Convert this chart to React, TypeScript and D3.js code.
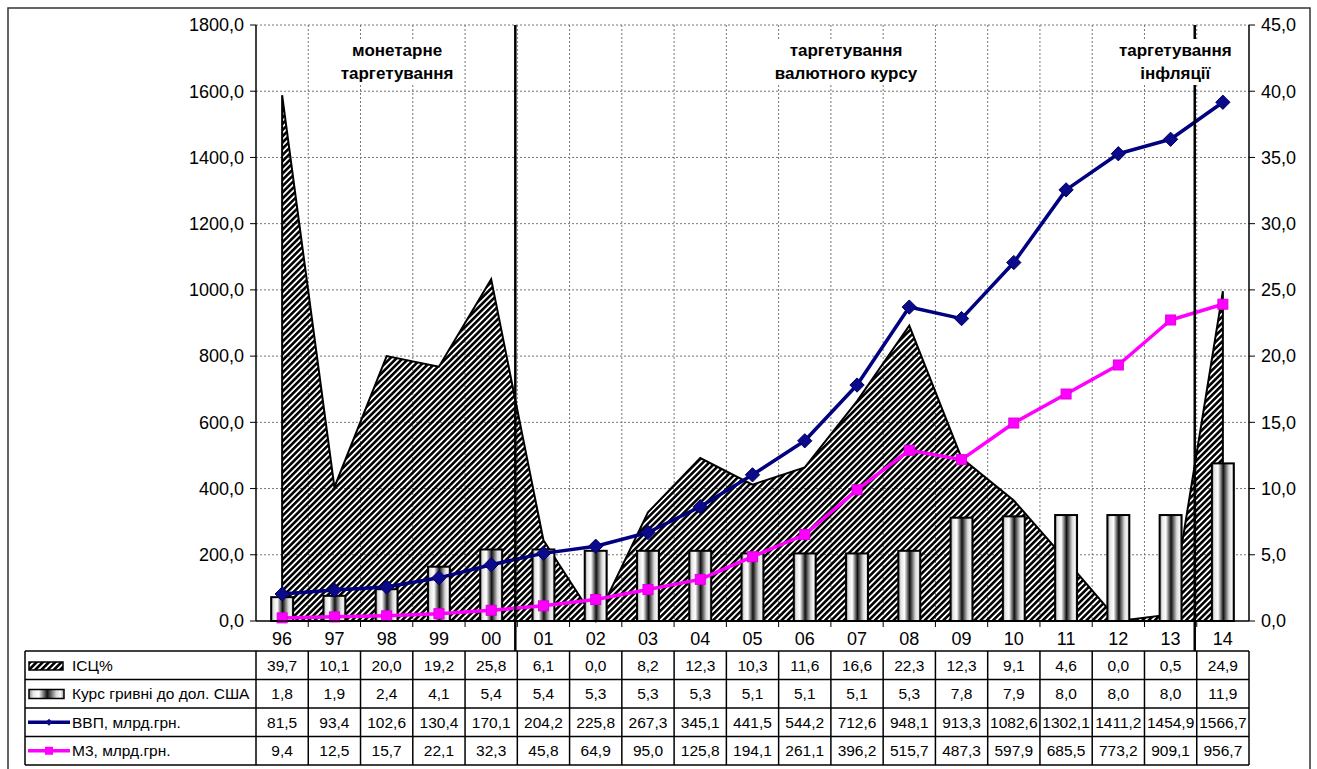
import * as d3 from "d3";
import { useEffect, useRef } from "react";

const years = ["96", "97", "98", "99", "00", "01", "02", "03", "04", "05", "06", "07", "08", "09", "10", "11", "12", "13", "14"];
const cpi = [39.7, 10.1, 20.0, 19.2, 25.8, 6.1, 0.0, 8.2, 12.3, 10.3, 11.6, 16.6, 22.3, 12.3, 9.1, 4.6, 0.0, 0.5, 24.9];
const rate = [1.8, 1.9, 2.4, 4.1, 5.4, 5.4, 5.3, 5.3, 5.3, 5.1, 5.1, 5.1, 5.3, 7.8, 7.9, 8.0, 8.0, 8.0, 11.9];
const gdp = [81.5, 93.4, 102.6, 130.4, 170.1, 204.2, 225.8, 267.3, 345.1, 441.5, 544.2, 712.6, 948.1, 913.3, 1082.6, 1302.1, 1411.2, 1454.9, 1566.7];
const m3 = [9.4, 12.5, 15.7, 22.1, 32.3, 45.8, 64.9, 95.0, 125.8, 194.1, 261.1, 396.2, 515.7, 487.3, 597.9, 685.5, 773.2, 909.1, 956.7];
const leftTicks = [0, 200, 400, 600, 800, 1000, 1200, 1400, 1600, 1800];
const rightTicks = [0, 5, 10, 15, 20, 25, 30, 35, 40, 45];
const seriesNames = ["ІСЦ%", "Курс гривні до дол. США", "ВВП, млрд.грн.", "М3, млрд.грн."];
// regime captions; "at" = centre position in category widths from the left axis
const regimes = [
  { lines: ["монетарне", "таргетування"], at: 2.7 },
  { lines: ["таргетування", "валютного курсу"], at: 11.29 },
  { lines: ["таргетування", "інфляції"], at: 17.59 },
];
// first year of a new regime
const regimeBreaks = ["01", "14"];

const fmt = (v: number) => d3.format(".1f")(v).replace(".", ",");

export default function App() {
  const svgRef = useRef<SVGSVGElement>(null);

  useEffect(() => {
    if (!svgRef.current) return;
    const svg = d3.select<SVGSVGElement, unknown>(svgRef.current);
    svg.selectAll("*").remove();

    const W = 1317;
    const H = 769;
    const plot = { left: 256, right: 1249, top: 25, bottom: 621 };
    const font = "Arial, 'Liberation Sans', sans-serif";

    svg.attr("width", W).attr("height", H);
    svg.append("rect").attr("width", W).attr("height", H).attr("fill", "#fff");

    const defs = svg.append("defs");
    const pat = defs
      .append("pattern")
      .attr("id", "hatch")
      .attr("patternUnits", "userSpaceOnUse")
      .attr("width", 4.4)
      .attr("height", 4.4)
      .attr("patternTransform", "rotate(45)");
    pat.append("line").attr("x1", 1.3).attr("y1", 0).attr("x2", 1.3).attr("y2", 4.4)
      .attr("stroke", "#000").attr("stroke-width", 2.6);

    const grad = defs.append("linearGradient").attr("id", "barGrad")
      .attr("x1", "0").attr("x2", "1").attr("y1", "0").attr("y2", "0");
    [
      [0, "#8a8a8a"], [0.12, "#e6e6e6"], [0.28, "#ffffff"], [0.52, "#111111"],
      [0.78, "#d8d8d8"], [0.9, "#f6f6f6"], [1, "#9a9a9a"],
    ].forEach(([o, c]) => grad.append("stop").attr("offset", o as number).attr("stop-color", c as string));

    const x = d3.scaleBand<string>().domain(years).range([plot.left, plot.right]).padding(0);
    const bw = x.bandwidth();
    const cx = (y: string) => (x(y) as number) + bw / 2;
    const yL = d3.scaleLinear().domain([0, 1800]).range([plot.bottom, plot.top]);
    const yR = d3.scaleLinear().domain([0, 45]).range([plot.bottom, plot.top]);

    // outer border
    svg.append("rect").attr("x", 8).attr("y", 8).attr("width", 1302).attr("height", 762)
      .attr("fill", "none").attr("stroke", "#333").attr("stroke-width", 1.5);

    // grid
    const grid = svg.append("g").attr("stroke", "#777").attr("stroke-width", 1).attr("stroke-dasharray", "2,2");
    leftTicks.slice(1).forEach((t) => {
      grid.append("line").attr("x1", plot.left).attr("x2", plot.right).attr("y1", yL(t)).attr("y2", yL(t));
    });
    years.slice(1).forEach((y) => {
      grid.append("line").attr("x1", x(y) as number).attr("x2", x(y) as number).attr("y1", plot.top).attr("y2", plot.bottom);
    });

    // CPI area (right axis)
    const area = d3.area<number>()
      .x((_, i) => cx(years[i]))
      .y0(plot.bottom)
      .y1((d) => yR(d));
    svg.append("path").datum(cpi).attr("d", area).attr("fill", "url(#hatch)")
      .attr("stroke", "#000").attr("stroke-width", 2).attr("stroke-linejoin", "miter");

    // exchange rate bars (right axis)
    const barW = bw * 0.42;
    svg.append("g").selectAll("rect").data(rate).enter().append("rect")
      .attr("x", (_, i) => cx(years[i]) - barW / 2)
      .attr("y", (d) => yR(d))
      .attr("width", barW)
      .attr("height", (d) => plot.bottom - yR(d))
      .attr("fill", "url(#barGrad)")
      .attr("stroke", "#000").attr("stroke-width", 2);

    // GDP and M3 lines (left axis)
    const line = d3.line<number>()
      .x((_, i) => cx(years[i]))
      .y((d) => yL(d));
    svg.append("path").datum(m3).attr("d", line).attr("fill", "none").attr("stroke", "#ff00ff")
      .attr("stroke-width", 3.5).attr("stroke-linejoin", "round");
    svg.append("g").selectAll("rect").data(m3).enter().append("rect")
      .attr("x", (_, i) => cx(years[i]) - 5).attr("y", (d) => yL(d) - 5)
      .attr("width", 10).attr("height", 10).attr("fill", "#ff00ff").attr("stroke", "#e000e0");
    svg.append("path").datum(gdp).attr("d", line).attr("fill", "none").attr("stroke", "#000080")
      .attr("stroke-width", 3.5).attr("stroke-linejoin", "round");
    const diamond = d3.symbol().type(d3.symbolDiamond2).size(130);
    svg.append("g").selectAll("path").data(gdp).enter().append("path")
      .attr("d", diamond)
      .attr("transform", (d, i) => `translate(${cx(years[i])},${yL(d)})`)
      .attr("fill", "#0a0a8a").attr("stroke", "#000060").attr("stroke-width", 1);

    // axes frame
    svg.append("line").attr("x1", plot.left).attr("x2", plot.left).attr("y1", plot.top).attr("y2", plot.bottom)
      .attr("stroke", "#000").attr("stroke-width", 1.5);
    svg.append("line").attr("x1", plot.right).attr("x2", plot.right).attr("y1", plot.top).attr("y2", plot.bottom)
      .attr("stroke", "#000").attr("stroke-width", 1.5);
    svg.append("line").attr("x1", plot.left).attr("x2", plot.right).attr("y1", plot.bottom).attr("y2", plot.bottom)
      .attr("stroke", "#000").attr("stroke-width", 1.5);

    const axL = svg.append("g");
    leftTicks.forEach((t) => {
      axL.append("line").attr("x1", plot.left - 6).attr("x2", plot.left).attr("y1", yL(t)).attr("y2", yL(t)).attr("stroke", "#000");
      axL.append("text").attr("x", plot.left - 12).attr("y", yL(t)).attr("dy", "0.35em").attr("text-anchor", "end")
        .attr("font-family", font).attr("font-size", 18).attr("fill", "#000").text(fmt(t));
    });
    const axR = svg.append("g");
    rightTicks.forEach((t) => {
      axR.append("line").attr("x1", plot.right).attr("x2", plot.right + 6).attr("y1", yR(t)).attr("y2", yR(t)).attr("stroke", "#000");
      axR.append("text").attr("x", plot.right + 12).attr("y", yR(t)).attr("dy", "0.35em").attr("text-anchor", "start")
        .attr("font-family", font).attr("font-size", 18).attr("fill", "#000").text(fmt(t));
    });

    // category ticks + labels
    const tableTop = 651;
    const rowH = 28.5;
    years.forEach((y, i) => {
      if (i > 0) {
        svg.append("line").attr("x1", x(y) as number).attr("x2", x(y) as number).attr("y1", plot.bottom).attr("y2", plot.bottom + 6)
          .attr("stroke", "#000");
      }
      svg.append("text").attr("x", cx(y)).attr("y", 639).attr("dy", "0.35em").attr("text-anchor", "middle")
        .attr("font-family", font).attr("font-size", 18).text(y);
    });

    // regime breaks
    regimeBreaks.forEach((y) => {
      svg.append("line").attr("x1", (x(y) as number) - 2).attr("x2", (x(y) as number) - 2)
        .attr("y1", plot.top).attr("y2", tableTop).attr("stroke", "#000").attr("stroke-width", 2.5);
    });

    // regime captions
    regimes.forEach((r) => {
      const mx = plot.left + r.at * bw;
      const g = svg.append("g");
      const bg = g.append("rect").attr("fill", "#fff");
      const t = g.append("text").attr("text-anchor", "middle").attr("font-family", font)
        .attr("font-weight", "bold").attr("font-size", 17);
      r.lines.forEach((l, k) => {
        t.append("tspan").attr("x", mx).attr("y", 56 + k * 23).text(l);
      });
      const bb = (t.node() as SVGTextElement).getBBox();
      bg.attr("x", bb.x - 3).attr("y", bb.y - 2).attr("width", bb.width + 6).attr("height", bb.height + 4);
    });

    // data table
    const tLeft = 25;
    const tbl = svg.append("g");
    const nRows = 4;
    for (let k = 0; k <= nRows; k++) {
      tbl.append("line").attr("x1", tLeft).attr("x2", plot.right).attr("y1", tableTop + k * rowH).attr("y2", tableTop + k * rowH)
        .attr("stroke", "#000").attr("stroke-width", 1.5);
    }
    [tLeft, plot.left, ...years.slice(1).map((y) => x(y) as number), plot.right].forEach((vx) => {
      tbl.append("line").attr("x1", vx).attr("x2", vx).attr("y1", tableTop).attr("y2", tableTop + nRows * rowH)
        .attr("stroke", "#000").attr("stroke-width", 1.5);
    });
    const rows = [cpi, rate, gdp, m3];
    rows.forEach((vals, k) => {
      const cy = tableTop + k * rowH + rowH / 2;
      vals.forEach((v, i) => {
        tbl.append("text").attr("x", cx(years[i])).attr("y", cy).attr("dy", "0.36em").attr("text-anchor", "middle")
          .attr("font-family", font).attr("font-size", 15.5).text(fmt(v));
      });
      tbl.append("text").attr("x", 72).attr("y", cy).attr("dy", "0.36em").attr("font-family", font).attr("font-size", 15.5)
        .text(seriesNames[k]);
    });
    // legend keys
    const r0 = tableTop;
    tbl.append("rect").attr("x", 29).attr("y", r0 + 11).attr("width", 34).attr("height", 8)
      .attr("fill", "url(#hatch)").attr("stroke", "#000").attr("stroke-width", 1.5);
    tbl.append("rect").attr("x", 29).attr("y", r0 + rowH + 10).attr("width", 35).attr("height", 9)
      .attr("fill", "url(#barGrad)").attr("stroke", "#000").attr("stroke-width", 1.5);
    const ly3 = r0 + 2 * rowH + rowH / 2;
    tbl.append("line").attr("x1", 28).attr("x2", 70).attr("y1", ly3).attr("y2", ly3).attr("stroke", "#000080").attr("stroke-width", 3.5);
    tbl.append("path").attr("d", d3.symbol().type(d3.symbolDiamond2).size(30)).attr("transform", `translate(49,${ly3})`)
      .attr("fill", "#0a0a8a");
    const ly4 = r0 + 3 * rowH + rowH / 2;
    tbl.append("line").attr("x1", 28).attr("x2", 70).attr("y1", ly4).attr("y2", ly4).attr("stroke", "#ff00ff").attr("stroke-width", 3.5);
    tbl.append("rect").attr("x", 45).attr("y", ly4 - 4).attr("width", 8).attr("height", 8).attr("fill", "#ff00ff");
  }, []);

  return <svg ref={svgRef} style={{ position: "absolute", left: 0, top: 0 }}></svg>;
}
